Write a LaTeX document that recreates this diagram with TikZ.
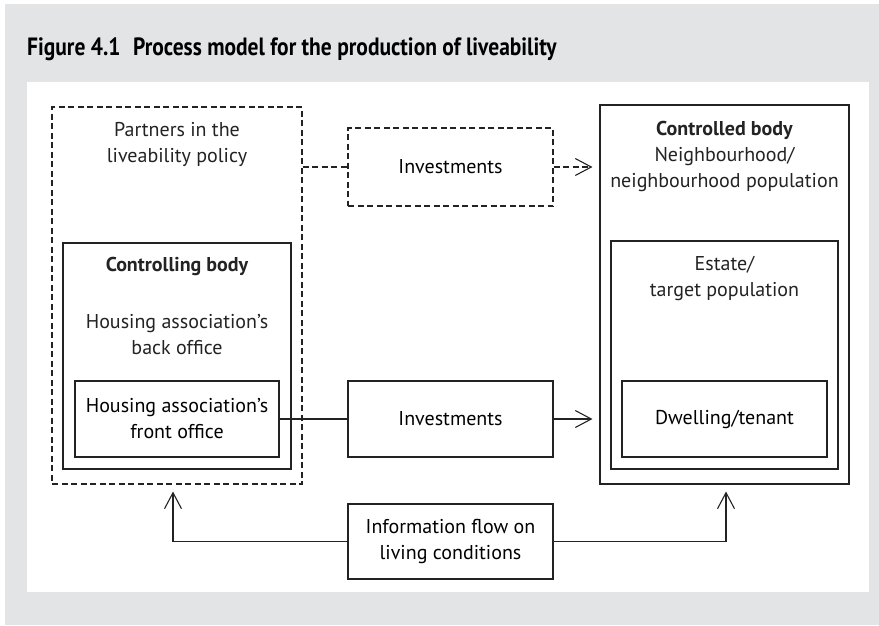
\documentclass[tikz,border=0pt]{standalone}
\usepackage{fontspec}
\setmainfont{PT Sans}
\newfontfamily\titlefont[FakeStretch=0.86]{PT Sans}
\usetikzlibrary{arrows.meta,calc}
\definecolor{bggray}{RGB}{227,228,230}
\definecolor{ink}{RGB}{35,35,35}
\tikzset{
  box/.style={draw=ink, line width=1.1pt, inner sep=0pt, align=center, font=\fontsize{20}{26}\selectfont},
  dbox/.style={box, dash pattern=on 6pt off 3.5pt},
  lbl/.style={inner sep=0pt, align=center, font=\fontsize{20}{26}\selectfont, text=ink},
  conn/.style={draw=ink, line width=1.1pt},
  openarrow/.style={-{Straight Barb[length=16pt,width=17pt,line width=1.1pt]}, shorten >=7pt},
}
\begin{document}
\begin{tikzpicture}[x=1pt,y=-1pt]
\useasboundingbox (0,0) rectangle (879,625);
\fill[white] (0,0) rectangle (879,625);
\fill[bggray] (5,4) rectangle (879,625);
\fill[white] (27,82) rectangle (869,592);
\node[anchor=base west, inner sep=0pt, font=\titlefont\bfseries\fontsize{25}{28}\selectfont, text=black] (title) at (27,55) {Figure 4.1\enspace Process model for the production of liveability};

% left side
\node[dbox, minimum width=250pt, minimum height=377pt] (partners) at (177,295.5) {};
\node[lbl] (partnerstxt) at (177,144) {Partners in the\\liveability policy};
\node[box, minimum width=228pt, minimum height=226pt] (controlling) at (177,356) {};
\node[lbl, font=\bfseries\fontsize{20}{26}\selectfont] (controllingtxt) at (177,266) {Controlling body};
\node[lbl] (backtxt) at (177,335) {Housing association’s\\back office};
\node[box, minimum width=204pt, minimum height=76pt] (front) at (177,419) {Housing association’s\\front office};

% middle
\node[dbox, minimum width=205pt, minimum height=78pt] (invD) at (450.5,167) {Investments};
\node[box, minimum width=205pt, minimum height=76pt] (invS) at (450.5,419) {Investments};
\node[box, minimum width=205pt, minimum height=75pt] (info) at (450.5,541.5) {Information flow on\\living conditions};

% right side
\node[box, minimum width=249pt, minimum height=379pt] (controlled) at (724.5,294.5) {};
\node[lbl] (controlledtxt) at (724.5,156) {\textbf{Controlled body}\\Neighbourhood/\\neighbourhood population};
\node[box, minimum width=227pt, minimum height=228pt] (estate) at (724.5,355) {};
\node[lbl] (estatetxt) at (724.5,278) {Estate/\\target population};
\node[box, minimum width=205pt, minimum height=76pt] (dwelling) at (724.5,419) {Dwelling/tenant};

% connectors
\draw[conn, dash pattern=on 6pt off 3.5pt] (partners.east |- invD.west) -- (invD.west);
\draw[conn, dash pattern=on 6pt off 3.5pt, openarrow] (invD.east) -- (controlled.west |- invD.east);
\draw[conn] (front.east) -- (invS.west);
\draw[conn, openarrow] (invS.east) -- (controlled.west |- invS.east);
\coordinate (lefttip) at ([xshift=-4pt]partners.south);
\coordinate (righttip) at ([xshift=1.5pt]controlled.south);
\draw[conn, openarrow] (info.west) -| (lefttip);
\draw[conn, openarrow] (info.east) -| (righttip);
\end{tikzpicture}
\end{document}
